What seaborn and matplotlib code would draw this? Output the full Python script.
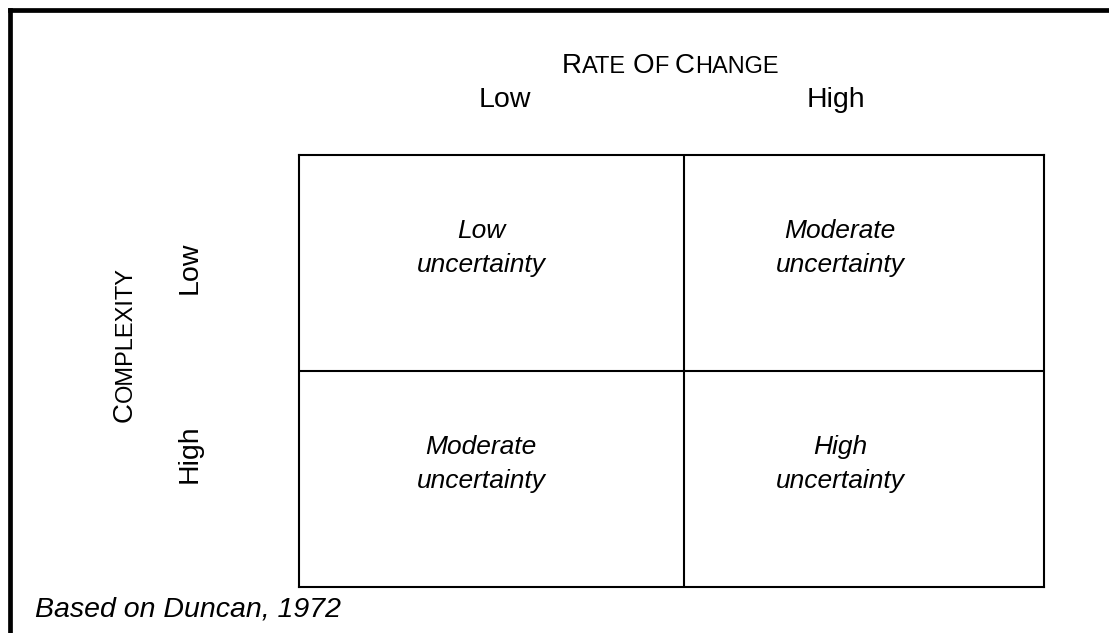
import numpy as np
import matplotlib
matplotlib.use("Agg")
import matplotlib.pyplot as plt
from matplotlib.colors import ListedColormap
import seaborn as sns

# chart content
col_labels = ["Low", "High"]
row_labels = ["Low", "High"]
cell_text = [
    ["Low\nuncertainty", "Moderate\nuncertainty"],
    ["Moderate\nuncertainty", "High\nuncertainty"],
]
x_title = ["Rate", "of", "Change"]
y_title = ["Complexity"]
source = "Based on Duncan, 1972"

sns.set_theme(style="white")
plt.rcParams["font.family"] = ["Liberation Sans", "DejaVu Sans"]


def small_caps(ax, words, x, y, rotation=0, big=20, small=17):
    '''
    Escribe texto en versalitas: primera letra grande, resto en mayúsculas pequeñas.
    '''
    renderer = ax.figure.canvas.get_renderer()
    pieces = []
    for k, w in enumerate(words):
        if k:
            pieces.append((None, small))
        pieces.append((w[0].upper(), big))
        if len(w) > 1:
            pieces.append((w[1:].upper(), small))
    widths = []
    for s, size in pieces:
        if s is None:
            widths.append(0.278 * size * 100 / 72)
        else:
            t = ax.text(0, 0, s, fontsize=size)
            widths.append(t.get_window_extent(renderer).width)
            t.remove()
    pos = -sum(widths) / 2
    for (s, size), w in zip(pieces, widths):
        if s is not None:
            if rotation:
                ax.text(x, y - pos, s, rotation=90, rotation_mode="anchor",
                        ha="left", va="baseline", fontsize=size, color="black")
            else:
                ax.text(x + pos, y, s, ha="left", va="baseline",
                        fontsize=size, color="black")
        pos += w


fig = plt.figure(figsize=(11.09, 6.33), dpi=100)

# background layer in pixel units
bg = fig.add_axes([0, 0, 1, 1])
bg.set_xlim(0, 1109)
bg.set_ylim(633, 0)
bg.axis("off")
bg.plot([9.5, 1109], [9.5, 9.5], color="black", lw=3.4, solid_capstyle="projecting")
bg.plot([9.5, 9.5], [9.5, 633], color="black", lw=3.4, solid_capstyle="projecting")

# the 2x2 grid (left column a little wider than the right one)
ax = fig.add_axes([299 / 1109, 1 - 587 / 633, 745 / 1109, 432 / 633])
sns.heatmap(
    np.zeros((2, 2)),
    ax=ax,
    cmap=ListedColormap(["white"]),
    cbar=False,
    linewidths=0,
    xticklabels=False,
    yticklabels=False,
)
for spine in ax.spines.values():
    spine.set_visible(True)
    spine.set_linewidth(1.5)
    spine.set_color("black")
col_split = 2 * 385 / 745
ax.axvline(col_split, color="black", lw=1.5)
ax.axhline(1, color="black", lw=1.5)

text_x = [2 * 182 / 745, 2 * 541 / 745]
for i, row in enumerate(cell_text):
    for j, s in enumerate(row):
        ax.text(text_x[j], i + 0.43, s, ha="center", va="center",
                style="italic", fontsize=19, linespacing=1.55, color="black")

# axis labels
for x, lab in zip([505, 836], col_labels):
    bg.text(x, 107, lab, ha="center", va="baseline", fontsize=20.5, color="black")
for y, lab in zip([268, 454], row_labels):
    bg.text(190, y, lab, ha="center", va="center", rotation=90,
            fontsize=20.5, color="black")

small_caps(bg, x_title, 670, 73)
small_caps(bg, y_title, 132, 345, rotation=90)

bg.text(35, 617, source, ha="left", va="baseline", style="italic",
        fontsize=20.5, color="black")

fig.savefig("out.png", dpi=100)
